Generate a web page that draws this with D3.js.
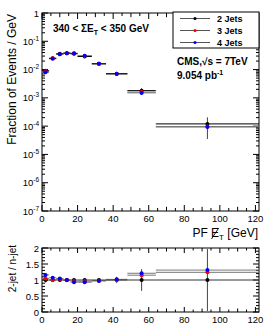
<!DOCTYPE html>
<html>
<head>
<meta charset="utf-8">
<script src="https://cdn.jsdelivr.net/npm/d3@7"></script>
<style>
  body { margin: 0; background: #fff; }
  svg { display: block; font-family: "Liberation Sans", Arial, sans-serif; }
</style>
</head>
<body>
<svg id="chart" width="267" height="324"></svg>
<script>
// bin edges of the PF MET histogram (GeV)
const binEdges = [0, 4, 8, 12, 16, 20, 28, 36, 48, 64, 122];

const seriesNames = ["2 Jets", "3 Jets", "4 Jets"];
const seriesColors = ["#000000", "#ff0000", "#0000ff"];

// fraction of events / GeV
const frac2 = [0.0091, 0.025, 0.036, 0.038, 0.036, 0.029, 0.016, 0.0071, 0.0018, 0.00012];
const frac3 = [0.0087, 0.025, 0.035, 0.038, 0.037, 0.030, 0.016, 0.0071, 0.0016, 0.000097];
const frac4 = [0.0080, 0.024, 0.035, 0.038, 0.038, 0.031, 0.016, 0.0070, 0.0015, 0.000093];
const frac2Err = [0.0012, 0.0015, 0.0015, 0.0015, 0.0015, 0.001, 0.0006, 0.0003, 0.0004, 0.000085];

// 2-jet / n-jet ratio
const ratio2 = [1, 1, 1, 1, 1, 1, 1, 1, 1, 1];
const ratio3 = [1.05, 1.0, 1.03, 0.99, 0.96, 0.96, 0.98, 1.0, 1.15, 1.24];
const ratio4 = [1.16, 1.07, 1.05, 1.0, 0.93, 0.93, 0.97, 1.02, 1.21, 1.31];
const ratio2Err = [0.08, 0.04, 0.03, 0.03, 0.03, 0.03, 0.04, 0.1, 0.34, 0.97];

const xTickLabels = [0, 20, 40, 60, 80, 100, 120];
const logDecades = [0, -1, -2, -3, -4, -5, -6, -7];
const ratioTickLabels = [0, 0.5, 1, 1.5, 2];

const svg = d3.select("#chart");

const x = d3.scaleLinear().domain([0, 122]).range([42, 259]);
const yTop = d3.scaleLog().domain([1e-7, 1]).range([211, 13]);
const yBot = d3.scaleLinear().domain([0, 2]).range([312, 248]);

const xMinor = d3.range(0, 121, 5);

// ---------- ticks (ROOT style, pointing inward, on all four sides) ----------
function xTicks(yPos, dir, majorLen, minorLen) {
  const g = svg.append("g");
  g.selectAll("line").data(xMinor).enter().append("line")
    .attr("x1", d => x(d)).attr("x2", d => x(d))
    .attr("y1", yPos)
    .attr("y2", d => yPos + dir * (d % 20 === 0 ? majorLen : (d % 10 === 0 ? minorLen * 1.4 : minorLen)))
    .attr("stroke", "#000").attr("stroke-width", 1);
}
xTicks(211, -1, 6, 3);
xTicks(13, 1, 6, 3);
xTicks(312, -1, 5, 2.5);
xTicks(248, 1, 5, 2.5);

// log y ticks
const logMinor = [];
for (let e = -7; e < 0; e++) for (let m = 1; m < 10; m++) logMinor.push({ v: m * Math.pow(10, e), major: m === 1 });
logMinor.push({ v: 1, major: true });
[[42, 1], [259, -1]].forEach(([xp, dir]) => {
  svg.append("g").selectAll("line").data(logMinor).enter().append("line")
    .attr("y1", d => yTop(d.v)).attr("y2", d => yTop(d.v))
    .attr("x1", xp).attr("x2", d => xp + dir * (d.major ? 6 : 3))
    .attr("stroke", "#000");
});

// ratio y ticks
const ratioMinor = d3.range(0, 2.01, 0.1).map(v => +v.toFixed(1));
[[42, 1], [259, -1]].forEach(([xp, dir]) => {
  svg.append("g").selectAll("line").data(ratioMinor).enter().append("line")
    .attr("y1", d => yBot(d)).attr("y2", d => yBot(d))
    .attr("x1", xp).attr("x2", d => xp + dir * (Math.abs(d * 2 - Math.round(d * 2)) < 1e-6 ? 6 : 3))
    .attr("stroke", "#000");
});

// frames
svg.append("rect").attr("x", 42).attr("y", 13).attr("width", 217).attr("height", 198)
  .attr("fill", "none").attr("stroke", "#000");
svg.append("rect").attr("x", 42).attr("y", 248).attr("width", 217).attr("height", 64)
  .attr("fill", "none").attr("stroke", "#000");

// ---------- tick labels ----------
[222, 323].forEach(yb => {
  svg.append("g").selectAll("text").data(xTickLabels).enter().append("text")
    .attr("x", d => x(d)).attr("y", yb)
    .attr("text-anchor", "middle").attr("font-size", 9.5).attr("fill", "#000")
    .text(d => d);
});

const logLab = svg.append("g").selectAll("text").data(logDecades).enter().append("text")
  .attr("x", 39).attr("y", d => yTop(Math.pow(10, d)) + 3.5)
  .attr("text-anchor", "end").attr("font-size", 9.5);
logLab.each(function (d) {
  const t = d3.select(this);
  if (d === 0) { t.text("1"); return; }
  t.append("tspan").text("10");
  t.append("tspan").attr("dy", -4).attr("font-size", 6.5).text(d);
});

svg.append("g").selectAll("text").data(ratioTickLabels).enter().append("text")
  .attr("x", 39).attr("y", d => yBot(d) + 3.5)
  .attr("text-anchor", "end").attr("font-size", 9.5)
  .text(d => d);

// ---------- axis titles ----------
svg.append("text")
  .attr("transform", "translate(16,14) rotate(-90)")
  .attr("text-anchor", "end").attr("font-size", 12)
  .text("Fraction of Events / GeV");

svg.append("text")
  .attr("transform", "translate(16,245) rotate(-90)")
  .attr("text-anchor", "end").attr("font-size", 10)
  .text("2-jet / n-jet");

const xt = svg.append("text").attr("x", 258).attr("y", 237)
  .attr("text-anchor", "end").attr("font-size", 12);
xt.append("tspan").text("PF E");
xt.append("tspan").attr("dy", 2.5).attr("font-size", 8).text("T");
xt.append("tspan").attr("dy", -2.5).text(" [GeV]");
// slash through the E (missing transverse energy)
const eBox = xt.node().getExtentOfChar(3);
svg.append("line")
  .attr("x1", eBox.x + eBox.width * 0.95).attr("y1", eBox.y + 2)
  .attr("x2", eBox.x + eBox.width * 0.05).attr("y2", eBox.y + eBox.height - 1)
  .attr("stroke", "#000").attr("stroke-width", 0.9);

// ---------- data ----------
function drawSeries(yScale, vals, errs, barColor) {
  const g = svg.append("g");
  const idx = d3.range(vals.length);
  g.selectAll(".h").data(idx).enter().append("line")
    .attr("x1", i => x(binEdges[i])).attr("x2", i => x(binEdges[i + 1]))
    .attr("y1", i => yScale(vals[i])).attr("y2", i => yScale(vals[i]))
    .attr("stroke", barColor).attr("stroke-width", 1);
  if (errs) {
    g.selectAll(".v").data(idx).enter().append("line")
      .attr("x1", i => x((binEdges[i] + binEdges[i + 1]) / 2))
      .attr("x2", i => x((binEdges[i] + binEdges[i + 1]) / 2))
      .attr("y1", i => yScale(Math.max(vals[i] - errs[i], 1e-7)))
      .attr("y2", i => Math.max(yScale(vals[i] + errs[i]), 13))
      .attr("stroke", "#444").attr("stroke-width", 1);
  }
}
function drawMarkers(yScale, vals, color) {
  svg.append("g").selectAll("circle").data(vals).enter().append("circle")
    .attr("cx", (d, i) => x((binEdges[i] + binEdges[i + 1]) / 2))
    .attr("cy", d => yScale(d))
    .attr("r", 2).attr("fill", color);
}

const topVals = [frac2, frac3, frac4];
const botVals = [ratio2, ratio3, ratio4];

drawSeries(yTop, frac4, null, "#777");
drawSeries(yTop, frac3, null, "#777");
drawSeries(yTop, frac2, frac2Err, "#000");
topVals.forEach((v, k) => drawMarkers(yTop, v, seriesColors[k]));

drawSeries(yBot, ratio4, null, "#777");
drawSeries(yBot, ratio3, null, "#777");
drawSeries(yBot, ratio2, ratio2Err, "#333");
botVals.forEach((v, k) => drawMarkers(yBot, v, seriesColors[k]));

// ---------- annotations ----------
const ann = svg.append("text").attr("x", 53).attr("y", 32)
  .attr("font-size", 10).attr("font-weight", "bold");
ann.append("tspan").text("340 < \u03A3E");
ann.append("tspan").attr("dy", 2.5).attr("font-size", 7).text("T");
ann.append("tspan").attr("dy", -2.5).text(" < 350 GeV");

const cms = svg.append("text").attr("x", 177).attr("y", 65)
  .attr("font-size", 10).attr("font-weight", "bold");
cms.append("tspan").text("CMS,\u221As = 7TeV");

const lumi = svg.append("text").attr("x", 177).attr("y", 79)
  .attr("font-size", 10).attr("font-weight", "bold");
lumi.append("tspan").text("9.054 pb");
lumi.append("tspan").attr("dy", -4).attr("font-size", 7).text("-1");

// ---------- legend ----------
const leg = svg.append("g");
leg.append("rect").attr("x", 173).attr("y", 12).attr("width", 86).attr("height", 36)
  .attr("fill", "#fff").attr("stroke", "#000");
seriesNames.forEach((name, k) => {
  const yy = 18.5 + k * 12;
  leg.append("line").attr("x1", 180).attr("x2", 210).attr("y1", yy).attr("y2", yy)
    .attr("stroke", "#555");
  leg.append("circle").attr("cx", 195).attr("cy", yy).attr("r", 1.6).attr("fill", seriesColors[k]);
  leg.append("text").attr("x", 217).attr("y", yy + 3.3)
    .attr("font-size", 9).attr("font-weight", "bold").text(name);
});
</script>
</body>
</html>
